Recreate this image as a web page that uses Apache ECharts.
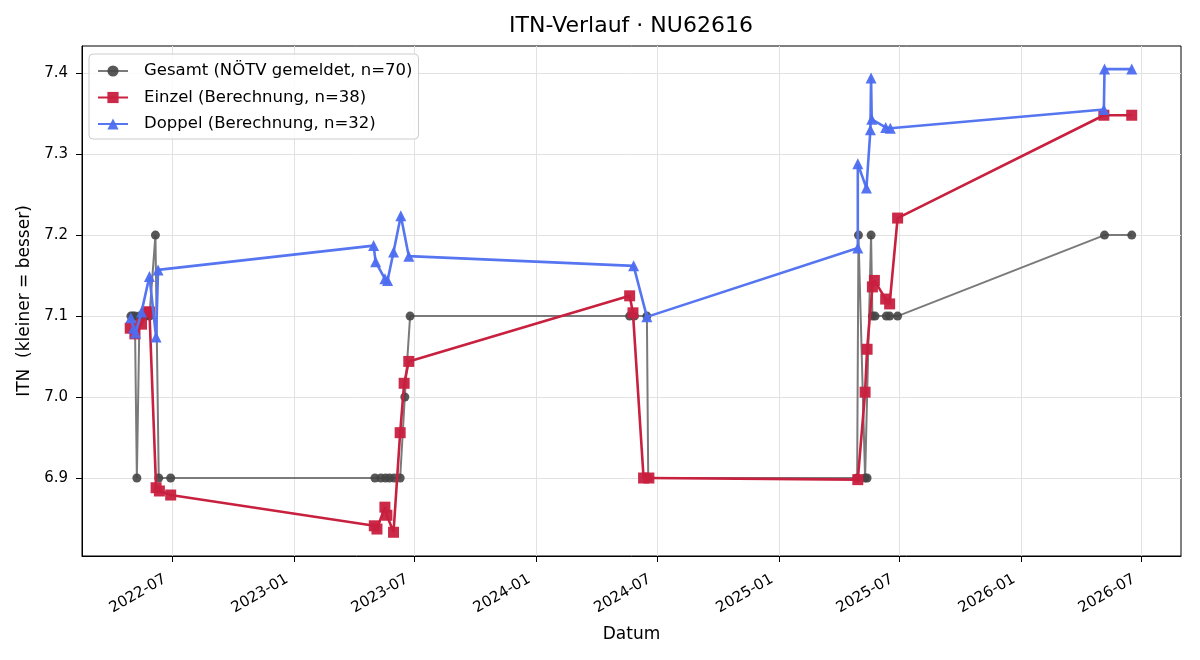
<!DOCTYPE html>
<html>
<head>
<meta charset="utf-8">
<script src="https://cdn.jsdelivr.net/npm/echarts@6/dist/echarts.min.js"></script>
<style>
html,body{margin:0;padding:0;background:#fff;}
#chart{width:1200px;height:660px;}
</style>
</head>
<body>
<div id="chart"></div>
<script>
// ---- data ----
const gesamtDates = ['2022-04-30','2022-05-03','2022-05-06','2022-05-09','2022-05-13','2022-05-22','2022-05-28','2022-06-06','2022-06-11','2022-06-29',
  '2023-05-03','2023-05-12','2023-05-19','2023-05-25','2023-06-01','2023-06-10','2023-06-17','2023-06-25',
  '2024-05-21','2024-05-28','2024-06-16','2024-06-18',
  '2025-04-29','2025-05-01','2025-05-11','2025-05-14','2025-05-20','2025-05-22','2025-05-26','2025-06-12','2025-06-17','2025-06-29',
  '2026-05-07','2026-06-17'];
const gesamtValues = [7.1,7.1,7.1,6.9,7.1,7.1,7.1,7.2,6.9,6.9,
  6.9,6.9,6.9,6.9,6.9,6.9,7.0,7.1,
  7.1,7.1,7.1,6.9,
  6.9,7.2,6.9,6.9,7.2,7.1,7.1,7.1,7.1,7.1,
  7.2,7.2];

const einzelDates = ['2022-04-29','2022-05-06','2022-05-16','2022-05-24','2022-05-28','2022-06-07','2022-06-12','2022-06-29',
  '2023-05-02','2023-05-06','2023-05-18','2023-05-21','2023-05-31','2023-06-10','2023-06-16','2023-06-23',
  '2024-05-21','2024-05-26','2024-06-11','2024-06-19',
  '2025-04-30','2025-05-11','2025-05-14','2025-05-22','2025-05-25','2025-06-11','2025-06-17','2025-06-29',
  '2026-05-06','2026-06-17'];
const einzelValues = [7.085,7.078,7.09,7.105,7.105,6.888,6.884,6.879,
  6.841,6.837,6.864,6.854,6.833,6.956,7.017,7.044,
  7.125,7.104,6.9,6.9,
  6.898,7.006,7.059,7.136,7.144,7.121,7.115,7.221,
  7.348,7.348];

const doppelDates = ['2022-04-30','2022-05-04','2022-05-07','2022-05-16','2022-05-28','2022-06-07','2022-06-10',
  '2023-05-01','2023-05-04','2023-05-18','2023-05-22','2023-05-31','2023-06-11','2023-06-23',
  '2024-05-27','2024-06-16',
  '2025-04-30','2025-04-30','2025-05-13','2025-05-19','2025-05-20','2025-05-21','2025-06-11','2025-06-18',
  '2026-05-06','2026-05-07','2026-06-17'];
const doppelValues = [7.098,7.085,7.079,7.105,7.149,7.074,7.157,
  7.187,7.167,7.146,7.144,7.179,7.224,7.174,
  7.162,7.099,
  7.184,7.288,7.258,7.33,7.394,7.343,7.333,7.332,
  7.355,7.405,7.405];

const seriesNames = ['Gesamt (NÖTV gemeldet, n=70)','Einzel (Berechnung, n=38)','Doppel (Berechnung, n=32)'];
const xTickLabels = ['2022-07','2023-01','2023-07','2024-01','2024-07','2025-01','2025-07','2026-01','2026-07'];
const yTicks = [6.9,7.0,7.1,7.2,7.3,7.4];
const xRange = ['2022-02-15 07:00','2026-08-30 07:00'];
const yRange = [6.8037,7.4335];

// ---- helpers ----
function parseLocal(s){
  const [d,t] = s.split(' ');
  const [y,m,dd] = d.split('-').map(Number);
  let hh=0, mm=0;
  if (t){ [hh,mm] = t.split(':').map(Number); }
  return Date.UTC(y,m-1,dd,hh,mm);
}
function pair(dates, vals){ return dates.map((d,i)=>[parseLocal(d), vals[i]]); }
const xTickValues = xTickLabels.map(s=>parseLocal(s+'-01'));
const xLabelMap = {};
xTickLabels.forEach((s,i)=>{ xLabelMap[xTickValues[i]] = s; });

const font = 'DejaVu Sans';
const chart = echarts.init(document.getElementById('chart'), null, {renderer:'canvas'});
chart.setOption({
  animation:false,
  backgroundColor:'#fff',
  title:{
    text:'ITN-Verlauf · NU62616',
    left:631, top:15, textAlign:'center', padding:0,
    textStyle:{fontFamily:font, fontSize:22, fontWeight:'normal', color:'#000'}
  },
  grid:{left:82, right:19, top:46, bottom:104, show:true, borderColor:'#000', borderWidth:1, backgroundColor:'transparent'},
  legend:{
    orient:'vertical', left:89, top:54,
    padding:[7,6,5,8],
    itemWidth:30, itemHeight:14, itemGap:6.5,
    backgroundColor:'rgba(255,255,255,0.85)', borderColor:'#cccccc', borderWidth:1, borderRadius:4,
    textStyle:{fontFamily:font, fontSize:16.5, color:'#000', lineHeight:20, padding:[0,0,0,11]},
    data:seriesNames
  },
  xAxis:{
    type:'value',
    min:parseLocal(xRange[0]), max:parseLocal(xRange[1]),
    name:'Datum', nameLocation:'middle', nameGap:70,
    nameTextStyle:{fontFamily:font, fontSize:17, color:'#000'},
    axisLine:{show:true, onZero:false, lineStyle:{color:'#000', width:1}},
    axisTick:{show:true, customValues:xTickValues, length:6, lineStyle:{color:'#000'}},
    axisLabel:{
      customValues:xTickValues, rotate:30, margin:18, padding:[0,8,0,0],
      fontFamily:font, fontSize:15, color:'#000',
      formatter:function(v){ return xLabelMap[v] !== undefined ? xLabelMap[v] : ''; }
    },
    splitLine:{show:true, lineStyle:{color:'#e2e2e2', width:1}}
  },
  yAxis:{
    type:'value', min:yRange[0], max:yRange[1],
    name:'ITN  (kleiner = besser)', nameLocation:'middle', nameGap:48,
    nameTextStyle:{fontFamily:font, fontSize:17, color:'#000'},
    axisLine:{show:true, onZero:false, lineStyle:{color:'#000', width:1}},
    axisTick:{show:true, customValues:yTicks, length:6, lineStyle:{color:'#000'}},
    axisLabel:{customValues:yTicks, margin:14, fontFamily:font, fontSize:15, color:'#000',
      formatter:function(v){return Number(v).toFixed(1);}},
    splitLine:{show:true, lineStyle:{color:'#e2e2e2', width:1}}
  },
  series:[
    {
      name:seriesNames[0], type:'line', data:pair(gesamtDates,gesamtValues),
      symbol:'circle', symbolSize:9, showAllSymbol:true,
      lineStyle:{color:'#7a7a7a', width:2},
      itemStyle:{color:'#454545', opacity:0.9},
      z:2
    },
    {
      name:seriesNames[1], type:'line', data:pair(einzelDates,einzelValues),
      symbol:'rect', symbolSize:11, showAllSymbol:true,
      lineStyle:{color:'#C8203F', width:2.6},
      itemStyle:{color:'#C8203F', opacity:0.95},
      z:3
    },
    {
      name:seriesNames[2], type:'line', data:pair(doppelDates,doppelValues),
      symbol:'triangle', symbolSize:11, showAllSymbol:true,
      lineStyle:{color:'#5675F0', width:2.6},
      itemStyle:{color:'#4D6DF0', opacity:0.95},
      z:4
    }
  ]
});
</script>
</body>
</html>
